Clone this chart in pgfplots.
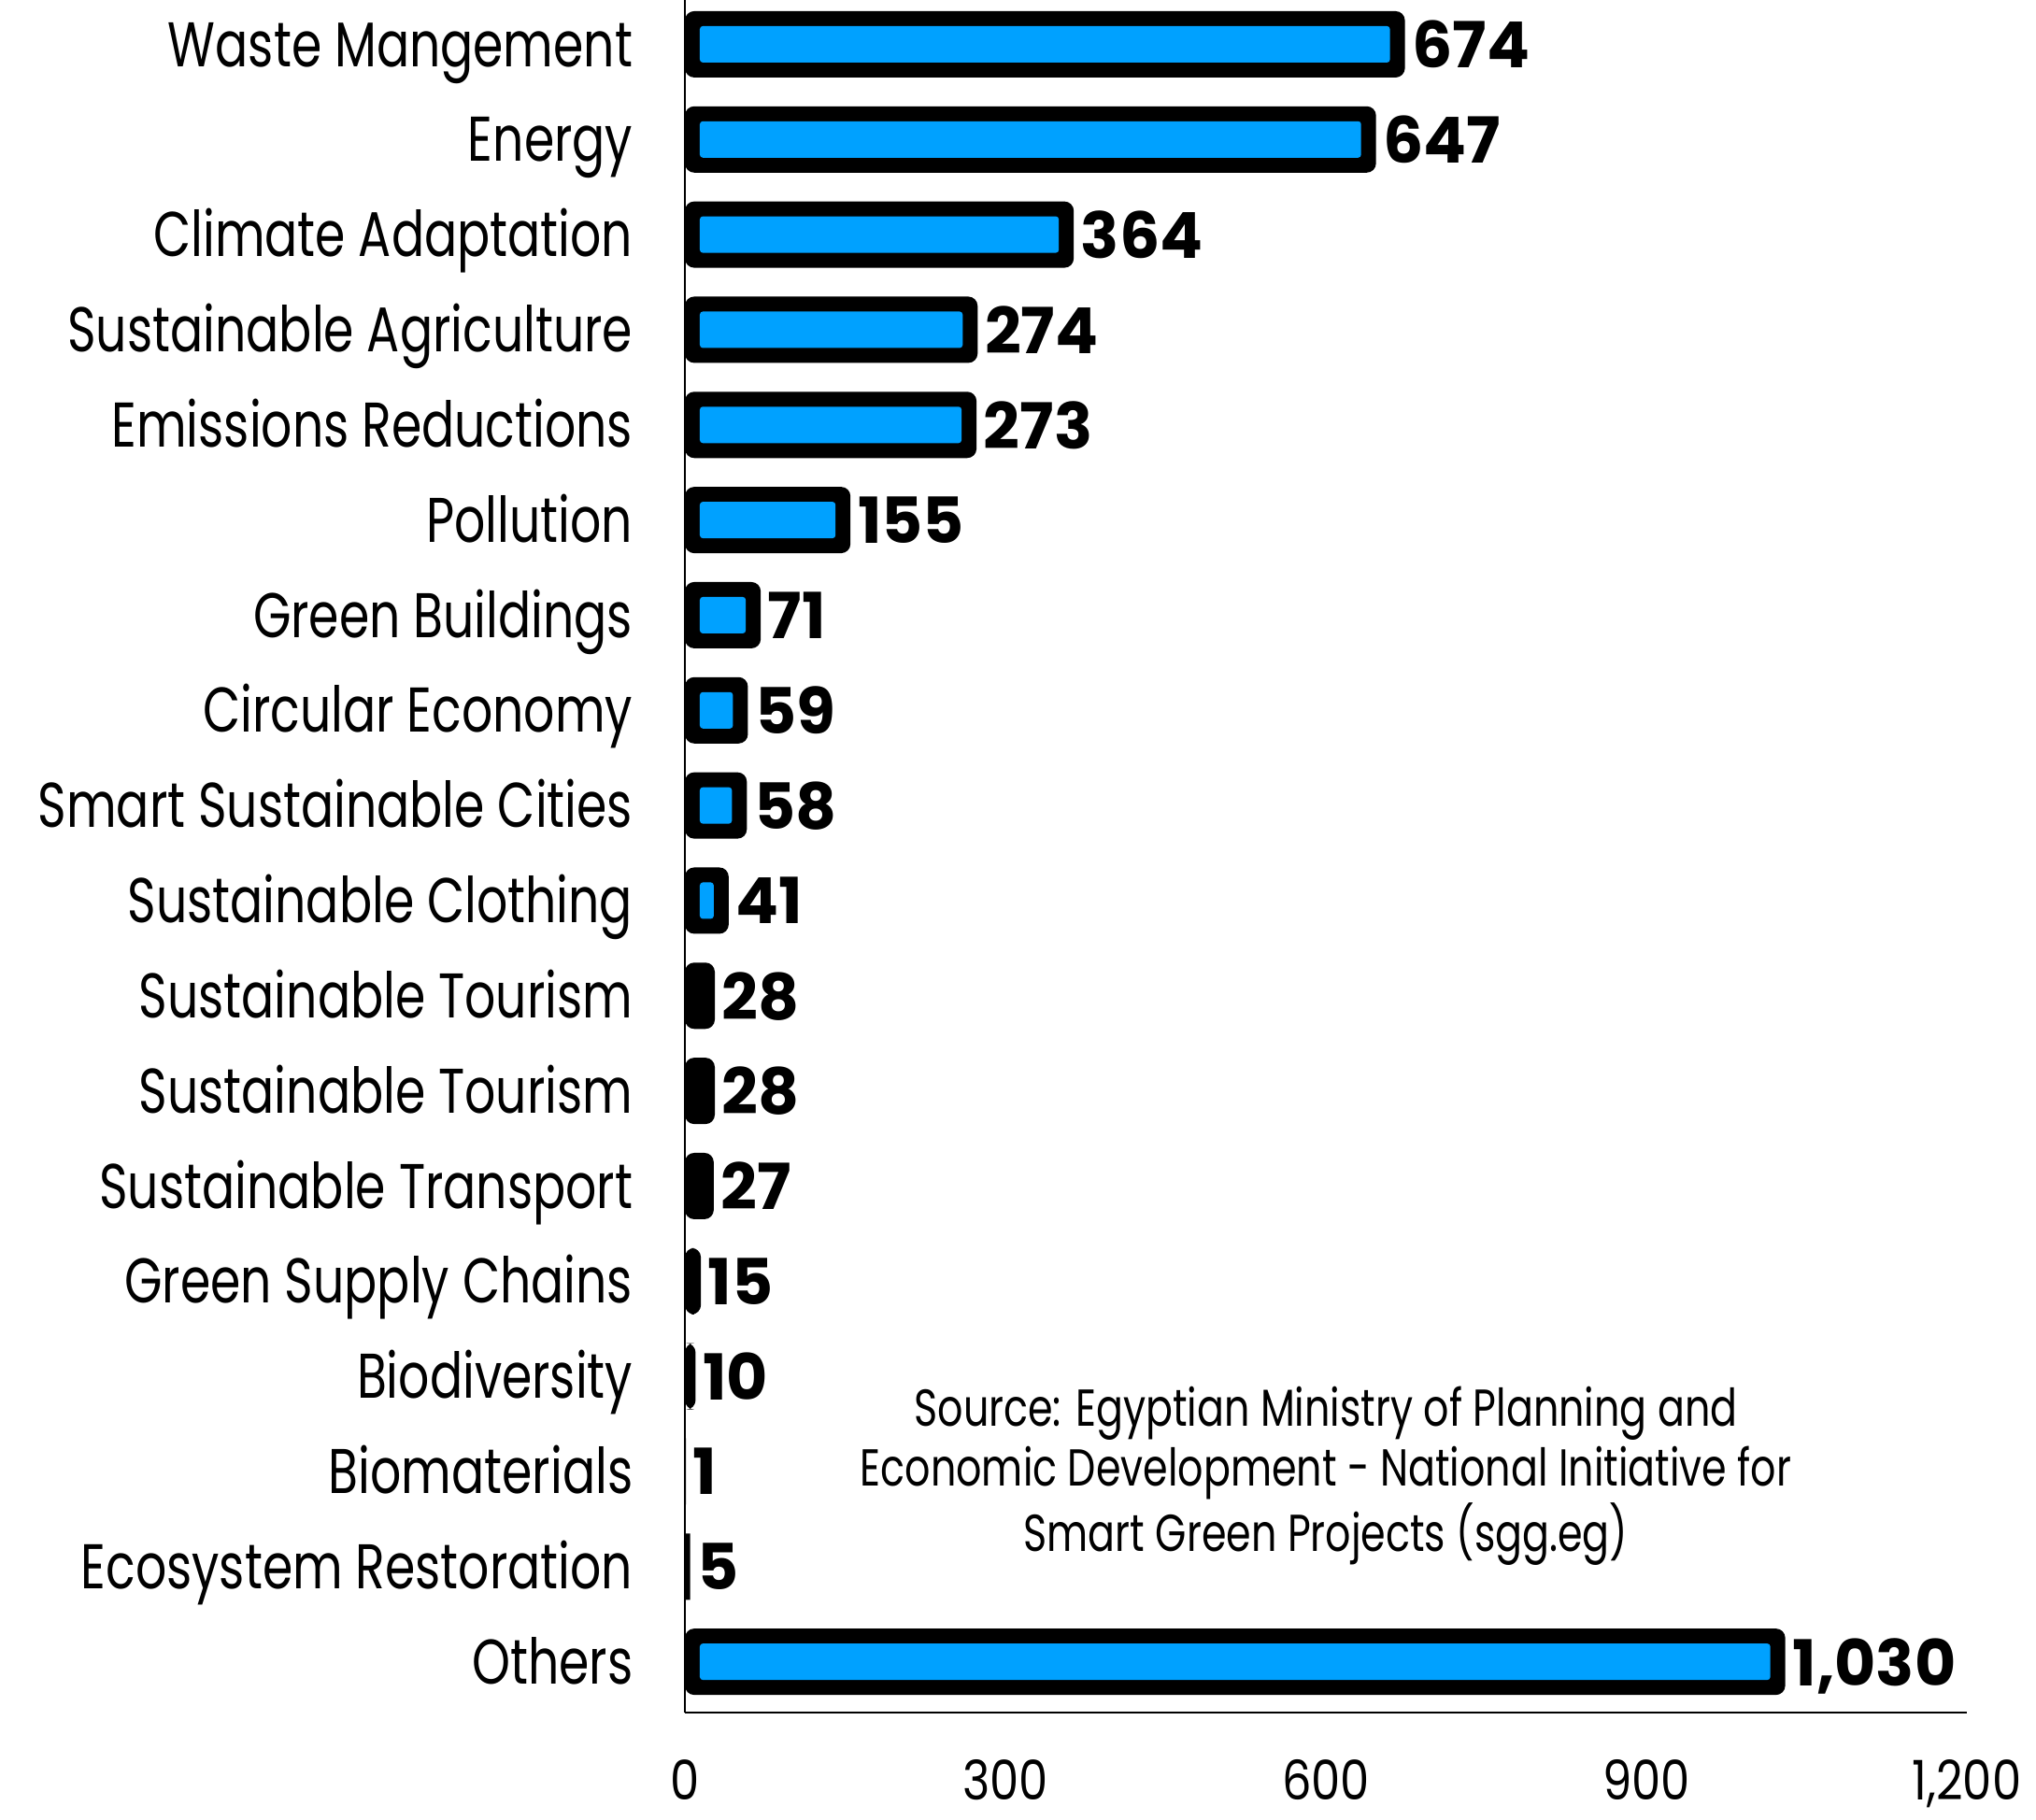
\documentclass[border=0pt]{standalone}
\usepackage{pgfplots}
\pgfplotsset{compat=1.18}
\usepackage{pgfplotstable}
\usepackage{fontspec}
\setmainfont{Poppins}
\newfontfamily\labfont[FakeStretch=0.77]{Poppins}
\newfontfamily\tickfont[FakeStretch=0.85]{Poppins}
\newfontfamily\numfont[BoldFont={Poppins Bold}]{Poppins}
\definecolor{barblue}{RGB}{0,161,255}

\pgfplotstableread{
y v
17 674
16 647
15 364
14 274
13 273
12 155
11 71
10 59
9 58
8 41
7 28
6 28
5 27
4 15
3 10
2 1
1 5
0 1030
}\datatable

\begin{document}
\begin{tikzpicture}
\useasboundingbox (-183.25pt,-28.5pt) rectangle (361.5pt,458.25pt);
\begin{axis}[
  at={(0,0)}, anchor=south west,
  scale only axis, width=343pt, height=458.25pt,
  xmin=0, xmax=1200, ymin=-0.534, ymax=17.466,
  axis x line*=bottom, axis y line*=left,
  axis line style={-, black, line width=0.7pt},
  xtick={0,300,600,900,1200},
  ytick={0,...,17},
  yticklabels={Others,Ecosystem Restoration,Biomaterials,Biodiversity,Green Supply Chains,Sustainable Transport,Sustainable Tourism,Sustainable Tourism,Sustainable Clothing,Smart Sustainable Cities,Circular Economy,Green Buildings,Pollution,Emissions Reductions,Sustainable Agriculture,Climate Adaptation,Energy,Waste Mangement},
  major tick length=0pt,
  /pgf/number format/assume math mode=true,
  /pgf/number format/1000 sep={,},
  xticklabel style={font=\tickfont\fontsize{14.6}{16}\selectfont, anchor=center, inner sep=0pt, text depth=0pt, yshift=-18pt},
  yticklabel style={font=\labfont\fontsize{16.9}{18}\selectfont, anchor=base east, inner sep=0pt, xshift=-13.75pt, yshift=-5.9pt},
  xbar,
  every node near coord/.append style={anchor=west, text depth=0pt, inner sep=0pt, xshift=1.75pt, font=\numfont\bfseries\fontsize{17}{18}\selectfont},
  clip=false,
]
% outer black bars (rounded for the wider ones)
\addplot[xbar, bar shift=0pt, bar width=17.75pt, fill=black, draw=none, rounded corners=2.5pt,
  restrict x to domain=8:5000,
  nodes near coords={\pgfmathprintnumber{\pgfplotspointmeta}}, point meta=x]
  table[x=v, y=y] {\datatable};
\addplot[xbar, bar shift=0pt, bar width=17.75pt, fill=black, draw=none,
  restrict x to domain=0:8,
  nodes near coords={\pgfmathprintnumber{\pgfplotspointmeta}}, point meta=x]
  table[x=v, y=y] {\datatable};
% inner blue fill
\addplot[xbar, bar shift=0pt, bar width=9.75pt, fill=barblue, draw=none, rounded corners=0.8pt, xshift=4pt,
  restrict x to domain=0.5:5000]
  table[x expr={\thisrow{v}-28}, y=y] {\datatable};
\node[align=center, font=\labfont\fontsize{13.9}{16}\selectfont] at (axis cs:600,1.95)
  {Source: Egyptian Ministry of Planning and\\Economic Development - National Initiative for\\Smart Green Projects (sgg.eg)};
\end{axis}
\end{tikzpicture}
\end{document}
